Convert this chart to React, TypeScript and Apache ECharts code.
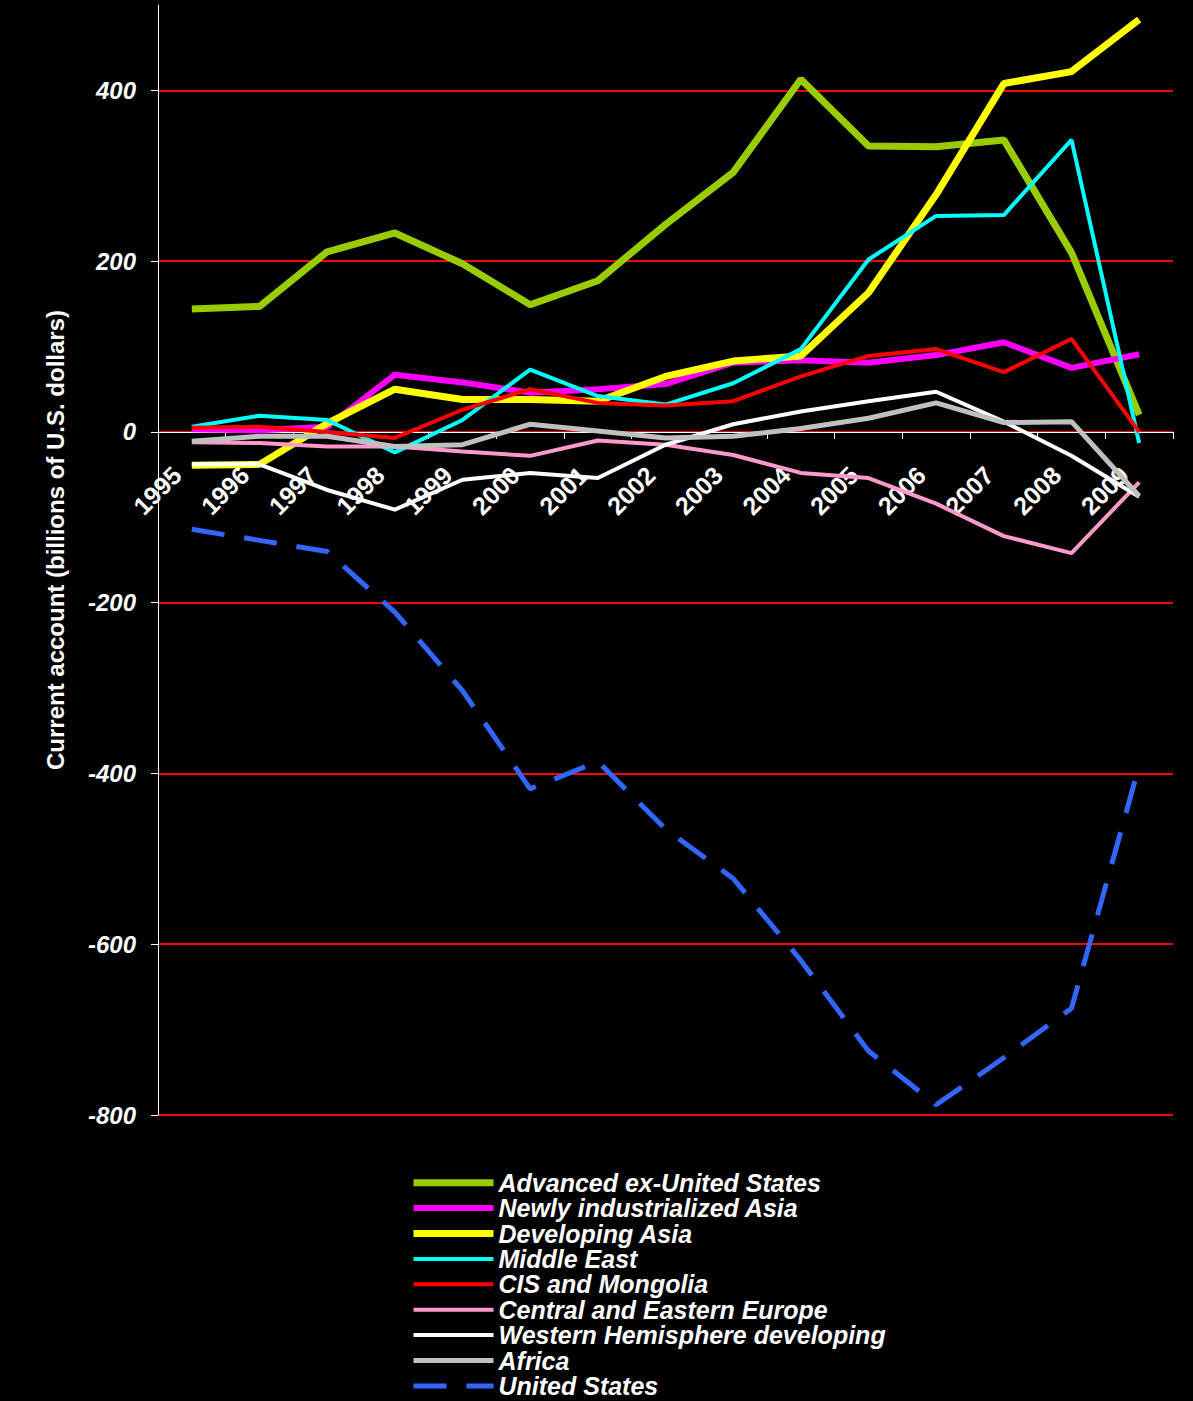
import React, { useEffect, useRef } from "react";
import * as echarts from "echarts";

const years = ["1995", "1996", "1997", "1998", "1999", "2000", "2001", "2002", "2003", "2004", "2005", "2006", "2007", "2008", "2009"];

const advancedExUS = [144, 147, 211, 233, 197, 149, 177, 243, 304, 413, 335, 334, 342, 210, 20];
const newlyIndAsia = [3, 2, 6, 67, 58, 46, 50, 56, 81, 84, 81, 90, 105, 75, 91];
const developingAsia = [-39, -38, 10, 50, 38, 38, 36, 65, 83, 89, 163, 278, 408, 422, 483];
const middleEast = [6, 19, 14, -24, 14, 73, 42, 32, 57, 97, 202, 253, 254, 342, -13];
const cisMongolia = [5, 6, 0, -7, 26, 50, 34, 31, 36, 65, 89, 97, 70, 109, 0];
const centralEastEurope = [-12, -13, -17, -17, -23, -28, -10, -15, -27, -48, -54, -84, -122, -142, -59];
const westernHemisphere = [-38, -38, -68, -91, -56, -48, -54, -15, 9, 24, 36, 47, 12, -28, -76];
const africa = [-11, -5, -5, -17, -15, 9, 1, -7, -5, 4, 16, 34, 11, 12, -75];
const unitedStates = [-114, -127, -140, -211, -303, -418, -386, -465, -523, -619, -725, -788, -733, -675, -391];

const yTickValues = [-800, -600, -400, -200, 0, 200, 400];
const yMin = -800;
const yMax = 500;

const seriesDefs = [
  { name: "Advanced ex-United States", data: advancedExUS, color: "#99CC00", width: 7 },
  { name: "Newly industrialized Asia", data: newlyIndAsia, color: "#FF00FF", width: 6 },
  { name: "Developing Asia", data: developingAsia, color: "#FFFF00", width: 7 },
  { name: "Middle East", data: middleEast, color: "#00FFFF", width: 4 },
  { name: "CIS and Mongolia", data: cisMongolia, color: "#FF0000", width: 4 },
  { name: "Central and Eastern Europe", data: centralEastEurope, color: "#FF99CC", width: 4 },
  { name: "Western Hemisphere developing", data: westernHemisphere, color: "#FFFFFF", width: 4 },
  { name: "Africa", data: africa, color: "#C0C0C0", width: 5 },
  { name: "United States", data: unitedStates, color: "#3366FF", width: 5, dash: [33, 20] },
];

export default function App() {
  const ref = useRef<HTMLDivElement>(null);
  useEffect(() => {
    if (!ref.current) return;
    const chart = echarts.init(ref.current, null, { renderer: "svg" });
    const font = "Liberation Sans, Arial, sans-serif";
    const gridTop = 5;
    const gridBottom = 286;
    const plotH = 1401 - gridTop - gridBottom;
    const zeroFromBottom = ((0 - yMin) / (yMax - yMin)) * plotH;
    chart.setOption({
      animation: false,
      backgroundColor: "#000000",
      grid: { left: 158, right: 20, top: gridTop, bottom: gridBottom, containLabel: false },
      legend: {
        orient: "vertical",
        left: 410,
        top: 1170,
        height: 260,
        padding: 0,
        itemWidth: 80,
        itemHeight: 14,
        itemGap: 0,
        data: seriesDefs.map((s) => s.name),
        itemStyle: { opacity: 0 },
        lineStyle: { width: "inherit" },
        textStyle: {
          color: "#FFFFFF",
          fontFamily: font,
          fontSize: 25,
          fontWeight: "bold",
          fontStyle: "italic",
          lineHeight: 25.4,
        },
      },
      graphic: [
        {
          type: "text",
          x: 55,
          y: 540,
          rotation: Math.PI / 2,
          style: {
            text: "Current account (billions of U.S. dollars)",
            fill: "#FFFFFF",
            font: `bold 24px ${font}`,
            align: "center",
            verticalAlign: "middle",
          },
        },
      ],
      xAxis: {
        type: "category",
        data: years,
        boundaryGap: true,
        offset: -zeroFromBottom,
        axisLine: { onZero: false, lineStyle: { color: "#FFFFFF", width: 1 } },
        axisTick: { show: true, alignWithLabel: false, length: 7, lineStyle: { color: "#FFFFFF" } },
        axisLabel: {
          rotate: 45,
          margin: 24,
          padding: [0, 21, 0, 0],
          color: "#FFFFFF",
          fontFamily: font,
          fontSize: 25,
          fontWeight: "bold",
          interval: 0,
        },
        splitLine: { show: false },
      },
      yAxis: {
        type: "value",
        min: yMin,
        max: yMax,
        interval: 200,
        axisLine: { show: true, lineStyle: { color: "#FFFFFF", width: 1 } },
        axisTick: { show: true, length: 7, lineStyle: { color: "#FFFFFF" }, customValues: yTickValues },
        axisLabel: {
          color: "#FFFFFF",
          fontFamily: font,
          fontSize: 24,
          fontWeight: "bold",
          fontStyle: "italic",
          margin: 22,
          customValues: yTickValues,
        },
        splitLine: { show: true, lineStyle: { color: "#FF0000", width: 2 } },
      },
      series: seriesDefs.map((s) => ({
        name: s.name,
        type: "line",
        data: s.data,
        symbol: "none",
        showSymbol: false,
        color: s.color,
        lineStyle: { color: s.color, width: s.width, type: s.dash ? s.dash : "solid" },
        itemStyle: { color: s.color },
      })),
    });
    return () => chart.dispose();
  }, []);
  return (
    <div
      ref={ref}
      style={{ position: "absolute", left: 0, top: 0, width: 1193, height: 1401 }}
    />
  );
}
